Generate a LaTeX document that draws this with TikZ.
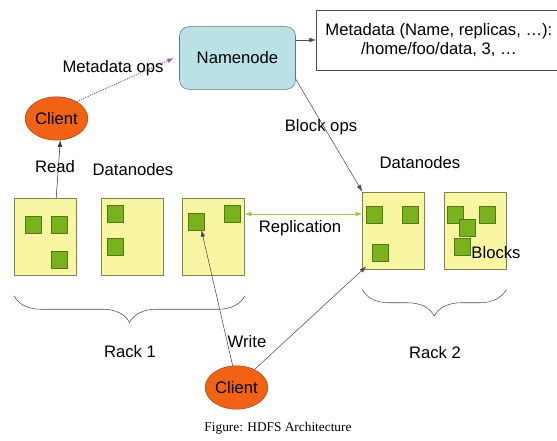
\documentclass[tikz,border=0pt]{standalone}
\usepackage{fontspec}
\setmainfont{Liberation Sans}
\newfontfamily\capfont{Liberation Serif}
\usetikzlibrary{positioning,calc,shapes.geometric,decorations.pathreplacing,arrows.meta}
\definecolor{dnfill}{RGB}{249,246,163}
\definecolor{dnline}{RGB}{130,130,80}
\definecolor{blkfill}{RGB}{122,178,30}
\definecolor{blkline}{RGB}{80,120,20}
\definecolor{clfill}{RGB}{242,98,20}
\definecolor{clline}{RGB}{160,70,30}
\definecolor{nnfill}{RGB}{186,226,230}
\definecolor{nnline}{RGB}{90,120,130}
\definecolor{opsline}{RGB}{150,90,170}
\definecolor{repline}{RGB}{150,200,60}
\begin{document}
\begin{tikzpicture}[x=0.75pt,y=-0.75pt,>={Latex[length=5pt,width=3.5pt]},
  font=\fontsize{12.5}{14.5}\selectfont, line join=round,
  dnode/.style={draw=dnline,fill=dnfill,minimum width=46.5pt,minimum height=58pt,inner sep=0pt},
  blk/.style={draw=blkline,fill=blkfill,minimum width=12pt,minimum height=12.5pt,inner sep=0pt},
  client/.style={ellipse,draw=clline,fill=clfill,minimum width=47pt,minimum height=32.5pt,inner sep=0pt},
  rack/.style={decorate,decoration={brace,mirror,amplitude=20pt},draw=black!70}]
\useasboundingbox (0,0) rectangle (557,441);
% namenode and metadata
\node[draw=nnline,fill=nnfill,rounded corners=7pt,minimum width=87pt,minimum height=47pt] (namenode) at (237.5,58) {Namenode};
\node[draw=black!70,fill=white,minimum width=184pt,minimum height=45pt,align=center,inner sep=0pt,anchor=west] (meta) at (316,40)
  {Metadata (Name, replicas, \ldots):\\/home/foo/data, 3, \ldots};
\node[client] (client1) at (56.5,118.5) {Client};
\node[client] (client2) at (236.5,387.5) {Client};
% datanodes
\node[dnode] (dn1) at (45.5,237) {};
\node[dnode] (dn2) at (132,237) {};
\node[dnode] (dn3) at (213.5,237) {};
\node[dnode] (dn4) at (393.5,230.5) {};
\node[dnode] (dn5) at (475,230.5) {};
% blocks
\node[blk] (b11) at (33.5,225) {};
\node[blk] (b12) at (59,225) {};
\node[blk] (b13) at (59,259.5) {};
\node[blk] (b21) at (115,214) {};
\node[blk] (b22) at (115,246.5) {};
\node[blk] (b31) at (196.5,221.5) {};
\node[blk] (b32) at (232,214) {};
\node[blk] (b41) at (374.5,214.5) {};
\node[blk] (b42) at (410.5,214.5) {};
\node[blk] (b43) at (380.5,252.5) {};
\node[blk] (b51) at (455.5,214.5) {};
\node[blk] (b52) at (487,214.5) {};
\node[blk] (b53) at (467,228) {};
\node[blk] (b54) at (462,247) {};
% connectors
\draw[->,densely dotted,opsline,thick] (client1.40) -- ([xshift=-4pt]namenode.west);
\draw[->,black!70] (namenode.east |- meta.west) -- (meta.west);
\draw[->,black!70] (namenode.-20) -- (dn4.north west);
\draw[->,black!80] ([xshift=8pt]dn1.north) -- (client1.-80);
\draw[<->,repline] (dn3.east |- b32.east) -- (dn4.west |- b32.east);
\draw[->,black!70] (client2.100) -- (b31.-60);
\draw[->,black!70] (client2.45) -- ([shift={(4,-3)}]dn4.south west);
\draw[rack] ($(dn1.south west)+(0,20)$) -- ($(dn3.south east)+(0,20)$);
\draw[rack] ($(dn4.south west)+(0,20)$) -- ($(dn5.south east)+(0,20)$);
% labels
\node at (113,68) {Metadata ops};
\node at (55,167) {Read};
\node at (133,170) {Datanodes};
\node at (321,127) {Block ops};
\node at (420,163) {Datanodes};
\node at (300,228) {Replication};
\node at (496,253) {Blocks};
\node at (247,342) {Write};
\node at (130,352) {Rack 1};
\node at (435,353) {Rack 2};
\node[font=\capfont\fontsize{10}{12}\selectfont] at (278,428) {Figure: HDFS Architecture};
\end{tikzpicture}
\end{document}
